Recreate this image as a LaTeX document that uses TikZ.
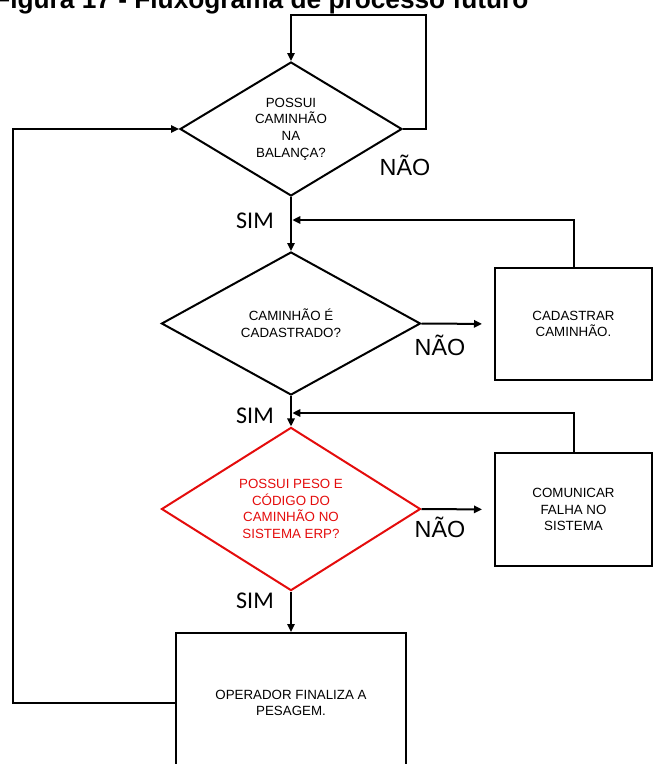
\documentclass[tikz,border=0pt]{standalone}
\usepackage{fontspec}
\setmainfont{Liberation Sans}
\newfontfamily\simfont{Carlito}
\usetikzlibrary{shapes.geometric,arrows.meta}
\definecolor{erpred}{RGB}{228,12,12}
\tikzset{
  decision/.style={draw, diamond, line width=1.5pt, inner sep=0pt, align=center,
    font=\fontsize{10}{12.5}\selectfont},
  process/.style={draw, rectangle, line width=1.5pt, inner sep=0pt, align=center,
    font=\fontsize{10}{12.5}\selectfont},
  flow/.style={line width=1.5pt, -{Triangle[length=6pt,width=5.5pt]}},
  link/.style={line width=1.5pt},
  simlabel/.style={anchor=base, inner sep=0pt, font=\simfont\fontsize{18}{18}\selectfont},
  naolabel/.style={anchor=base, inner sep=0pt, font=\fontsize{17.5}{18}\selectfont},
}
\begin{document}
\begin{tikzpicture}[x=0.75pt, y=-0.75pt]
\useasboundingbox (0,0) rectangle (654,764);
% titulo (cortado no topo)
\node[anchor=base west, inner sep=0pt, font=\bfseries\fontsize{19.7}{20}\selectfont] (titulo) at (-6,8)
  {Figura 17 - Fluxograma de processo futuro};
% decisoes
\node[decision, minimum width=166.5pt, minimum height=99.75pt] (balanca) at (291,129)
  {POSSUI\\CAMINHÃO\\NA\\BALANÇA?};
\node[decision, minimum width=194.25pt, minimum height=107.25pt] (cadastro) at (291,323.5)
  {CAMINHÃO É\\CADASTRADO?};
\node[decision, draw=erpred, text=erpred, minimum width=194.25pt, minimum height=103.5pt] (erp) at (291,509)
  {POSSUI PESO E\\CÓDIGO DO\\CAMINHÃO NO\\SISTEMA ERP?};
% processos
\node[process, minimum width=117.75pt, minimum height=84pt] (cadastrar) at (573.5,324)
  {CADASTRAR\\CAMINHÃO.};
\node[process, minimum width=117.75pt, minimum height=84.75pt] (comunicar) at (573.5,509.5)
  {COMUNICAR\\FALHA NO\\SISTEMA};
\node[process, minimum width=172.5pt, minimum height=105pt] (finaliza) at (291,703)
  {OPERADOR FINALIZA A\\PESAGEM.};
% rotulos
\node[naolabel] (nao1) at (405,175) {NÃO};
\node[naolabel] (nao2) at (440,355) {NÃO};
\node[naolabel] (nao3) at (440,537) {NÃO};
\node[simlabel] (sim1) at (255,228) {SIM};
\node[simlabel] (sim2) at (255,423) {SIM};
\node[simlabel] (sim3) at (255,608) {SIM};
% pontos de retorno
\coordinate (topo) at (426,15);
\coordinate (esq) at (13,129);
\coordinate (ret1) at (291,220);
\coordinate (ret2) at (291,413);
% conectores
\draw[flow] (balanca.east) -| (topo) -| (balanca.north);
\draw[flow] (balanca.south) -- (cadastro.north);
\draw[flow, shorten >=9pt] (cadastro.east) -- (cadastrar.west);
\draw[flow, shorten >=1pt] (cadastrar.north) |- (ret1);
\draw[flow] (cadastro.south) -- (erp.north);
\draw[flow, shorten >=9pt] (erp.east) -- (comunicar.west);
\draw[flow, shorten >=1pt] (comunicar.north) |- (ret2);
\draw[flow] (erp.south) -- (finaliza.north);
\draw[flow] (finaliza.west) -| (esq) -- (balanca.west);
\end{tikzpicture}
\end{document}
